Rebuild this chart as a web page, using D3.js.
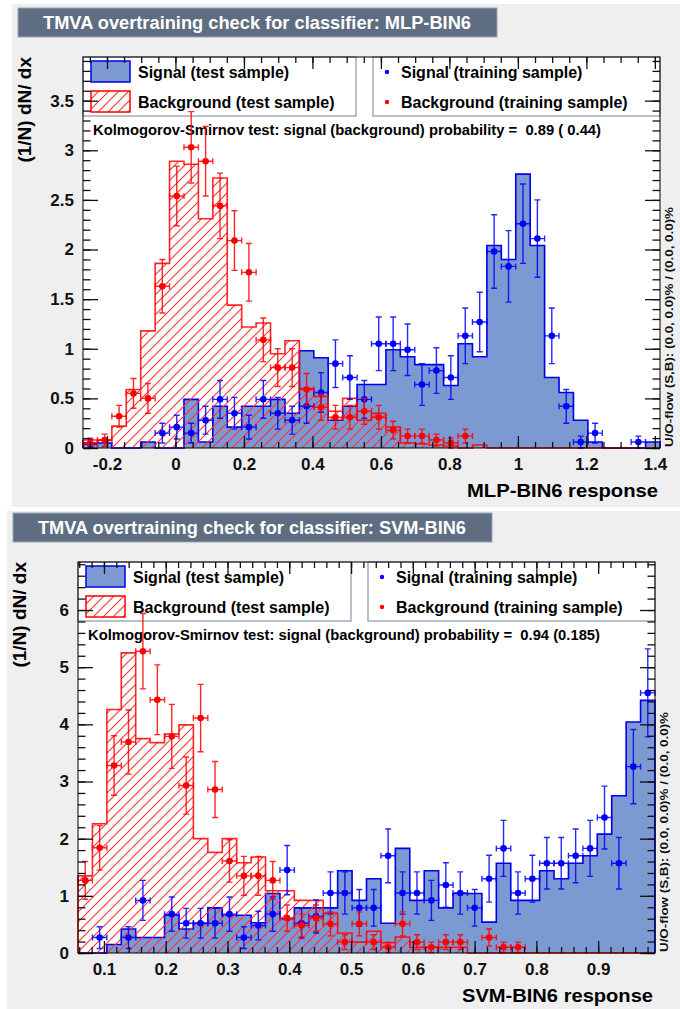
<!DOCTYPE html>
<html>
<head>
<meta charset="utf-8">
<script src="https://cdn.jsdelivr.net/npm/d3@7"></script>
<style>
  body { margin: 0; background: #fff; }
  svg { display: block; }
  text { font-family: "Liberation Sans", Arial, Helvetica, sans-serif; font-weight: bold; white-space: pre; }
</style>
</head>
<body>
<svg id="chart" width="680" height="1009"></svg>
<script>
// ---------- data: 40 bins per classifier ----------
const nBins = 40;

// MLP-BIN6
const mlpRange = [-0.27, 1.415];
const mlpYMax = 3.94;
const mlpSigTest = [0.05,0.05,0,0,0.06,0,0,0.49,0.06,0.42,
  0.21,0.42,0.42,0.49,0.35,0.98,0.91,0.28,0.42,0.64,
  0.64,0.99,0.92,0.84,0.84,0.63,1.05,0.92,2.04,1.90,
  2.76,2.04,0.71,0.56,0.28,0.06,0,0,0,0.06];
const mlpBkgTest = [0.08,0.08,0.22,0.59,1.18,1.86,2.89,2.86,2.31,2.72,
  1.44,1.22,1.26,0.95,1.08,0.60,0.52,0.37,0.50,0.28,
  0.35,0.21,0.05,0.04,0.03,0.02,0,0.03,0,0,
  0,0,0,0,0,0,0,0,0,0];
const mlpSigTrain = [0.04,null,null,null,null,0.15,0.21,0.15,0.28,0.49,
  0.35,0.21,0.49,0.35,0.28,0.42,0.56,0.85,0.71,0.49,
  1.05,1.05,0.99,0.64,0.78,0.71,1.13,1.27,1.98,1.83,
  2.26,2.11,1.13,0.42,0.06,0.15,null,null,0.06,null];
const mlpSigTrainErr = [0.05,0,0,0,0,0.10,0.12,0.10,0.14,0.19,
  0.16,0.12,0.19,0.16,0.14,0.17,0.20,0.24,0.22,0.19,
  0.27,0.27,0.26,0.21,0.23,0.22,0.28,0.30,0.37,0.36,
  0.40,0.39,0.28,0.17,0.06,0.10,0,0,0.06,0];
const mlpBkgTrain = [0.05,0.08,0.32,0.55,0.50,1.63,2.54,3.03,2.89,2.44,
  2.09,1.77,1.09,0.81,0.81,0.59,0.41,0.31,0.31,0.37,
  0.31,0.18,0.12,0.12,0.08,0.05,0.12,null,null,null,
  null,null,null,null,null,null,null,null,null,null];
const mlpBkgTrainErr = [0.05,0.06,0.11,0.15,0.15,0.27,0.30,0.36,0.35,0.33,
  0.30,0.29,0.22,0.19,0.19,0.16,0.13,0.12,0.12,0.13,
  0.12,0.09,0.07,0.07,0.06,0.05,0.07,0,0,0,
  0,0,0,0,0,0,0,0,0,0];
const mlpXTicks = [-0.2,0,0.2,0.4,0.6,0.8,1.0,1.2,1.4];
const mlpXLabels = ["-0.2","0","0.2","0.4","0.6","0.8","1","1.2","1.4"];
const mlpYTicks = [0,0.5,1,1.5,2,2.5,3,3.5];
const mlpYLabels = ["0","0.5","1","1.5","2","2.5","3","3.5"];

// SVM-BIN6
const svmRange = [0.058, 0.992];
const svmYMax = 6.84;
const svmSigTest = [0,0,0.15,0.42,0.27,0.27,0.66,0.42,0.52,0.79,
  0.66,0.66,0.53,1.04,0.60,0.79,0.79,0.79,1.44,0.92,
  1.30,0.52,1.83,0.92,1.44,0.79,1.04,1.04,0.54,1.57,
  0.92,0.92,1.44,1.30,1.57,1.70,2.08,2.75,4.04,4.42];
const svmBkgTest = [1.35,2.26,4.26,5.25,3.75,3.68,3.83,3.99,2.00,1.76,
  2.00,1.58,1.68,1.09,1.09,0.92,0.92,0.70,0.35,0.19,
  0.38,0.18,0.28,0.10,0.10,0.10,0.10,0,0,0,
  0,0,0,0,0,0,0,0,0,0];
const svmSigTrain = [null,0.27,null,0.27,0.92,null,0.68,0.52,0.52,0.52,
  0.68,0.27,0.48,0.68,1.45,0.52,0.64,1.05,1.05,0.79,
  0.79,1.70,1.05,1.05,0.92,1.19,1.05,0.79,1.30,1.83,
  1.05,1.30,1.57,1.57,1.70,1.83,2.37,1.57,3.26,4.55];
const svmSigTrainErr = [0,0.19,0,0.19,0.35,0,0.30,0.26,0.26,0.26,
  0.30,0.19,0.25,0.30,0.43,0.26,0.29,0.37,0.37,0.32,
  0.32,0.47,0.37,0.37,0.35,0.39,0.37,0.32,0.41,0.49,
  0.37,0.41,0.45,0.45,0.47,0.49,0.55,0.45,0.65,0.77];
const svmBkgTrain = [1.27,1.84,3.28,3.69,5.28,4.43,3.79,2.93,4.11,2.86,
  1.61,1.35,1.35,1.27,0.61,0.48,0.61,0.51,0.19,0.51,
  0.19,0.10,0.51,0.19,0.10,0.19,0.19,null,0.27,0.10,
  0.10,null,null,null,null,null,null,null,null,null];
const svmBkgTrainErr = [0.33,0.39,0.52,0.56,0.66,0.61,0.56,0.50,0.59,0.49,
  0.37,0.34,0.34,0.33,0.23,0.20,0.23,0.21,0.13,0.21,
  0.13,0.09,0.21,0.13,0.09,0.13,0.13,0,0.15,0.09,
  0.09,0,0,0,0,0,0,0,0,0];
const svmXTicks = [0.1,0.2,0.3,0.4,0.5,0.6,0.7,0.8,0.9];
const svmXLabels = ["0.1","0.2","0.3","0.4","0.5","0.6","0.7","0.8","0.9"];
const svmYTicks = [0,1,2,3,4,5,6];
const svmYLabels = ["0","1","2","3","4","5","6"];

// ---------- styling ----------
const W = 680;
const PW = 577, PH = 391;
const sigFill = "#7d99d1", sigLine = "#0000ee", bkgLine = "#ff0000";
const font = "\"Liberation Sans\", Arial, Helvetica, sans-serif";

const svg = d3.select("#chart");

// hatch pattern for the background histogram
const pat = svg.append("defs").append("pattern")
  .attr("id", "hatch")
  .attr("patternUnits", "userSpaceOnUse")
  .attr("width", 10).attr("height", 10);
pat.append("path")
  .attr("d", "M0,10 L10,0 M-2.5,2.5 L2.5,-2.5 M7.5,12.5 L12.5,7.5")
  .style("fill", "none")
  .style("stroke", "#ff3030")
  .style("stroke-width", "1.1px");

function drawPanel(p) {
  const g = svg.append("g");
  const left = p.left, top = p.top, bottom = top + PH, right = left + PW;

  // panel background + title box
  g.append("rect").attr("x", p.bgX).attr("y", p.bgY).attr("width", W - p.bgX).attr("height", p.bgH)
    .attr("fill", "#efefef");
  g.append("rect").attr("x", p.titleX).attr("y", p.titleY).attr("width", 479).attr("height", 29)
    .attr("fill", "#5e6d81").attr("stroke", "#9aa6b5").attr("stroke-width", 1);
  g.append("text").attr("x", p.titleX + 25).attr("y", p.titleY + 21)
    .attr("fill", "#fff").attr("font-size", 18)
    .attr("textLength", 428).attr("lengthAdjust", "spacingAndGlyphs")
    .text(p.title);

  // plot area
  g.append("rect").attr("x", left).attr("y", top).attr("width", PW).attr("height", PH).attr("fill", "#fff");

  const x = d3.scaleLinear().domain(p.range).range([left, right]);
  const y = d3.scaleLinear().domain([0, p.yMax]).range([bottom, top]);
  const edges = d3.range(nBins + 1).map(i => p.range[0] + i * (p.range[1] - p.range[0]) / nBins);
  const centers = d3.range(nBins).map(i => (edges[i] + edges[i + 1]) / 2);

  // legend boxes
  g.append("rect").attr("x", left).attr("y", top).attr("width", 273).attr("height", 59)
    .attr("fill", "#fff").attr("stroke", "#a3acba").attr("stroke-width", 1.5);
  g.append("rect").attr("x", left + 290).attr("y", top).attr("width", PW - 290).attr("height", 59)
    .attr("fill", "#fff").attr("stroke", "#a3acba").attr("stroke-width", 1.5);
  g.append("rect").attr("x", left + 8).attr("y", top + 4).attr("width", 39).attr("height", 21)
    .attr("fill", sigFill).attr("stroke", sigLine).attr("stroke-width", 1.5);
  g.append("rect").attr("x", left + 8).attr("y", top + 34).attr("width", 39).attr("height", 21)
    .attr("fill", "url(#hatch)").attr("stroke", bkgLine).attr("stroke-width", 1.5);
  const legText = [
    ["Signal (test sample)", left + 55, top + 20.5],
    ["Background (test sample)", left + 55, top + 50.5],
    ["Signal (training sample)", left + 318, top + 20.5],
    ["Background (training sample)", left + 318, top + 50.5]
  ];
  legText.forEach(([t, tx, ty]) => {
    g.append("text").attr("x", tx).attr("y", ty).attr("font-size", 16).attr("fill", "#000").text(t);
  });
  g.append("circle").attr("cx", left + 304).attr("cy", top + 15).attr("r", 2.2).attr("fill", "#0000ff");
  g.append("circle").attr("cx", left + 304).attr("cy", top + 45).attr("r", 2.2).attr("fill", "#ff0000");

  // KS text
  g.append("text").attr("x", left + 10).attr("y", top + 78).attr("font-size", 14)
    .attr("textLength", p.ksLen).attr("lengthAdjust", "spacingAndGlyphs")
    .text(p.ks);

  // histograms
  function stepPath(vals) {
    let d = `M${x(edges[0])},${y(0)}`;
    vals.forEach((v, i) => { d += `L${x(edges[i])},${y(v)}L${x(edges[i + 1])},${y(v)}`; });
    return d + `L${x(edges[nBins])},${y(0)}`;
  }
  g.append("path").attr("d", stepPath(p.sigTest) + "Z").attr("fill", sigFill).attr("stroke", "none");
  g.append("path").attr("d", stepPath(p.sigTest)).attr("fill", "none")
    .attr("stroke", sigLine).attr("stroke-width", 1.6);
  g.append("path").attr("d", stepPath(p.bkgTest) + "Z").attr("fill", "url(#hatch)").attr("stroke", "none");
  g.append("path").attr("d", stepPath(p.bkgTest)).attr("fill", "none")
    .attr("stroke", bkgLine).attr("stroke-width", 1.6).attr("stroke-opacity", 0.85);

  // training points with error bars
  function points(vals, errs, color) {
    const pg = g.append("g").attr("stroke", color).attr("stroke-width", 1.4).attr("stroke-opacity", 0.85);
    vals.forEach((v, i) => {
      if (v === null) return;
      const cx = x(centers[i]), cy = y(v);
      const x0 = x(edges[i]), x1 = x(edges[i + 1]);
      const yt = y(v + errs[i]), yb = y(Math.max(0, v - errs[i]));
      pg.append("path").attr("fill", "none").attr("d",
        `M${x0},${cy}H${x1}M${x0},${cy - 3}V${cy + 3}M${x1},${cy - 3}V${cy + 3}` +
        `M${cx},${yt}V${yb}M${cx - 3},${yt}H${cx + 3}M${cx - 3},${yb}H${cx + 3}`);
      g.append("circle").attr("cx", cx).attr("cy", cy).attr("r", 3.3).attr("fill", color);
    });
  }
  points(p.sigTrain, p.sigTrainErr, "#0000ff");
  points(p.bkgTrain, p.bkgTrainErr, "#ff0000");

  // axes (ticks on all four sides, pointing inward)
  const xMinor = d3.range(p.xMinor[0], p.range[1], p.xMinor[1]).filter(v => v >= p.range[0]);
  const yMinor = d3.range(0, p.yMax, p.yMinorStep);
  function styleAxis(sel) {
    sel.select(".domain").remove();
    sel.selectAll("line").attr("stroke", "#111").attr("stroke-width", 1.3);
    sel.selectAll("text").attr("font-family", font).attr("font-weight", "bold")
      .attr("font-size", 17).attr("fill", "#111");
  }
  g.append("g").attr("transform", `translate(0,${bottom})`)
    .call(d3.axisBottom(x).tickValues(xMinor).tickSizeInner(-6).tickSizeOuter(0).tickFormat(""))
    .call(styleAxis);
  g.append("g").attr("transform", `translate(0,${bottom})`)
    .call(d3.axisBottom(x).tickValues(p.xTicks).tickSizeInner(-12).tickSizeOuter(0)
      .tickPadding(10).tickFormat((d, i) => p.xLabels[i]))
    .call(styleAxis);
  g.append("g").attr("transform", `translate(0,${top})`)
    .call(d3.axisTop(x).tickValues(xMinor).tickSizeInner(-6).tickSizeOuter(0).tickFormat(""))
    .call(styleAxis);
  g.append("g").attr("transform", `translate(0,${top})`)
    .call(d3.axisTop(x).tickValues(p.xTicks).tickSizeInner(-12).tickSizeOuter(0).tickFormat(""))
    .call(styleAxis);
  g.append("g").attr("transform", `translate(${left},0)`)
    .call(d3.axisLeft(y).tickValues(yMinor).tickSizeInner(-7.5).tickSizeOuter(0).tickFormat(""))
    .call(styleAxis);
  g.append("g").attr("transform", `translate(${left},0)`)
    .call(d3.axisLeft(y).tickValues(p.yTicks).tickSizeInner(-15).tickSizeOuter(0)
      .tickPadding(9).tickFormat((d, i) => p.yLabels[i]))
    .call(styleAxis);
  g.append("g").attr("transform", `translate(${right},0)`)
    .call(d3.axisRight(y).tickValues(yMinor).tickSizeInner(-7.5).tickSizeOuter(0).tickFormat(""))
    .call(styleAxis);
  g.append("g").attr("transform", `translate(${right},0)`)
    .call(d3.axisRight(y).tickValues(p.yTicks).tickSizeInner(-15).tickSizeOuter(0).tickFormat(""))
    .call(styleAxis);
  g.append("rect").attr("x", left).attr("y", top).attr("width", PW).attr("height", PH)
    .attr("fill", "none").attr("stroke", "#000").attr("stroke-width", 1);

  // axis titles
  g.append("text").attr("x", right - 2).attr("y", bottom + 49).attr("text-anchor", "end")
    .attr("font-size", 19).attr("textLength", 191).attr("lengthAdjust", "spacingAndGlyphs")
    .text(p.xTitle);
  g.append("text").attr("transform", `translate(${left - 52},${top}) rotate(-90)`)
    .attr("text-anchor", "end").attr("font-size", 19).text("(1/N) dN/ dx");
  g.append("text").attr("transform", `translate(${right + 13},${bottom - 1}) rotate(-90)`)
    .attr("font-size", 11.5).attr("fill", "#111")
    .attr("textLength", 240).attr("lengthAdjust", "spacingAndGlyphs")
    .text("U/O-flow (S,B): (0.0, 0.0)% / (0.0, 0.0)%");
}

drawPanel({
  bgX: 12, bgY: 4, bgH: 503, titleX: 18, titleY: 8,
  left: 83, top: 57,
  title: "TMVA overtraining check for classifier: MLP-BIN6",
  ks: "Kolmogorov-Smirnov test: signal (background) probability =  0.89 ( 0.44)", ksLen: 508,
  range: mlpRange, yMax: mlpYMax,
  sigTest: mlpSigTest, bkgTest: mlpBkgTest,
  sigTrain: mlpSigTrain, sigTrainErr: mlpSigTrainErr,
  bkgTrain: mlpBkgTrain, bkgTrainErr: mlpBkgTrainErr,
  xTicks: mlpXTicks, xLabels: mlpXLabels, xMinor: [-0.25, 0.05],
  yTicks: mlpYTicks, yLabels: mlpYLabels, yMinorStep: 0.1,
  xTitle: "MLP-BIN6 response"
});

drawPanel({
  bgX: 7, bgY: 511, bgH: 498, titleX: 13, titleY: 513,
  left: 78, top: 562,
  title: "TMVA overtraining check for classifier: SVM-BIN6",
  ks: "Kolmogorov-Smirnov test: signal (background) probability =  0.94 (0.185)", ksLen: 512,
  range: svmRange, yMax: svmYMax,
  sigTest: svmSigTest, bkgTest: svmBkgTest,
  sigTrain: svmSigTrain, sigTrainErr: svmSigTrainErr,
  bkgTrain: svmBkgTrain, bkgTrainErr: svmBkgTrainErr,
  xTicks: svmXTicks, xLabels: svmXLabels, xMinor: [0.06, 0.02],
  yTicks: svmYTicks, yLabels: svmYLabels, yMinorStep: 0.2,
  xTitle: "SVM-BIN6 response"
});
</script>
</body>
</html>
